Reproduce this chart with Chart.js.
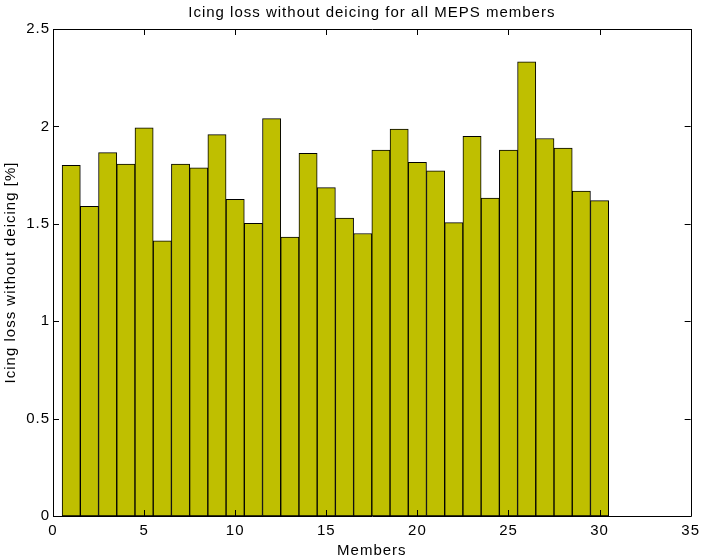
<!DOCTYPE html>
<html>
<head>
<meta charset="utf-8">
<script src="https://cdn.jsdelivr.net/npm/chart.js@4"></script>
<style>
html,body{margin:0;padding:0;background:#fff;}
#wrap{width:705px;height:560px;position:relative;}
</style>
</head>
<body>
<div id="wrap"><canvas id="c" width="705" height="560"></canvas></div>
<script>
const members = [1,2,3,4,5,6,7,8,9,10,11,12,13,14,15,16,17,18,19,20,21,22,23,24,25,26,27,28,29,30];
const icingLoss = [1.80,1.59,1.865,1.806,1.993,1.413,1.806,1.787,1.958,1.626,1.502,2.04,1.432,1.862,1.686,1.529,1.450,1.878,1.986,1.815,1.772,1.506,1.949,1.632,1.878,2.331,1.938,1.889,1.668,1.619];
const xTicks = [0,5,10,15,20,25,30,35];
const yTicks = [0,0.5,1,1.5,2,2.5];
const titleText = 'Icing loss without deicing for all MEPS members';
const xLabel = 'Members';
const yLabel = 'Icing loss without deicing [%]';

const FONT = '"Liberation Sans", Arial, Helvetica, sans-serif';
const FS = 15;

const boxPlugin = {
  id: 'matlabBox',
  beforeDraw(chart) {
    try { chart.ctx.letterSpacing = '1px'; } catch (e) {}
  },
  afterDraw(chart) {
    const ctx = chart.ctx;
    const a = chart.chartArea;
    const xs = chart.scales.x, ys = chart.scales.y;
    ctx.save();
    ctx.strokeStyle = '#000';
    ctx.lineWidth = 1;
    ctx.beginPath();
    ctx.rect(Math.round(a.left)+0.5, Math.round(a.top)+0.5, Math.round(a.right-a.left), Math.round(a.bottom-a.top));
    ctx.stroke();
    const tl = 6;
    ctx.beginPath();
    xTicks.forEach(v => {
      const p = Math.round(xs.getPixelForValue(v)) + 0.5;
      ctx.moveTo(p, a.bottom); ctx.lineTo(p, a.bottom - tl);
      ctx.moveTo(p, a.top); ctx.lineTo(p, a.top + tl);
    });
    yTicks.forEach(v => {
      const p = Math.round(ys.getPixelForValue(v)) + 0.5;
      ctx.moveTo(a.left, p); ctx.lineTo(a.left + tl, p);
      ctx.moveTo(a.right, p); ctx.lineTo(a.right - tl, p);
    });
    ctx.stroke();
    ctx.fillStyle = '#000';
    ctx.font = FS + 'px ' + FONT;
    try { ctx.letterSpacing = '1px'; } catch (e) {}
    ctx.textAlign = 'center';
    ctx.textBaseline = 'alphabetic';
    // title
    ctx.fillText(titleText, (a.left + a.right) / 2, 17);
    // x label
    ctx.fillText(xLabel, (a.left + a.right) / 2, 555);
    // y label
    ctx.save();
    ctx.translate(15, (a.top + a.bottom) / 2);
    ctx.rotate(-Math.PI / 2);
    ctx.fillText(yLabel, 0, 0);
    ctx.restore();
    ctx.restore();
  }
};

new Chart(document.getElementById('c'), {
  type: 'bar',
  data: {
    datasets: [{
      data: members.map((m, i) => ({x: m, y: icingLoss[i]})),
      backgroundColor: '#bfbf00',
      borderColor: '#000',
      borderWidth: 1,
      barPercentage: 1,
      categoryPercentage: 1,
      borderSkipped: false
    }]
  },
  options: {
    responsive: false,
    animation: false,
    devicePixelRatio: 1,
    layout: { padding: { top: 29, right: 10, left: 0, bottom: 0 } },
    plugins: { legend: { display: false }, tooltip: { enabled: false }, title: { display: false } },
    scales: {
      x: {
        type: 'linear',
        offset: false,
        min: 0, max: 35,
        afterBuildTicks: s => { s.ticks = xTicks.map(v => ({value: v})); },
        afterFit: s => { s.height = 44; },
        grid: { display: false, drawTicks: false },
        border: { display: false },
        ticks: { color: '#000', font: { family: FONT, size: FS }, padding: 6, maxRotation: 0, autoSkip: false, callback: v => String(v) }
      },
      y: {
        min: 0, max: 2.5,
        afterBuildTicks: s => { s.ticks = yTicks.map(v => ({value: v})); },
        afterFit: s => { s.width = 53; },
        grid: { display: false, drawTicks: false },
        border: { display: false },
        ticks: { color: '#000', font: { family: FONT, size: FS }, padding: 3, autoSkip: false, callback: v => String(v) }
      }
    }
  },
  plugins: [boxPlugin]
});
</script>
</body>
</html>
